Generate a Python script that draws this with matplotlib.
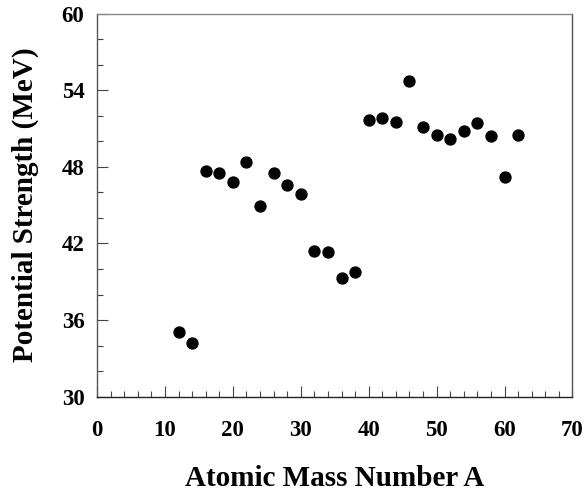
import matplotlib
matplotlib.use("Agg")
import matplotlib.pyplot as plt
from matplotlib.ticker import MultipleLocator

# mass number A and potential strength (MeV)
mass_number = [12, 14, 16, 18, 20, 22, 24, 26, 28, 30, 32, 34, 36, 38,
               40, 42, 44, 46, 48, 50, 52, 54, 56, 58, 60, 62]
strength = [35.1, 34.2, 47.7, 47.5, 46.8, 48.4, 44.9, 47.5, 46.6, 45.9,
            41.4, 41.3, 39.3, 39.8, 51.7, 51.8, 51.5, 54.7, 51.1, 50.5,
            50.2, 50.8, 51.4, 50.4, 47.2, 50.5]

x_ticks = [0, 10, 20, 30, 40, 50, 60, 70]
y_ticks = [30, 36, 42, 48, 54, 60]

plt.rcParams['font.family'] = ['Liberation Serif', 'DejaVu Serif']
plt.rcParams['font.weight'] = 'bold'

fig = plt.figure(figsize=(5.85, 4.91), dpi=100)
ax = fig.add_axes([0.1658, 0.192, 0.8128, 0.7805])

ax.scatter(mass_number, strength, s=62, color='black', zorder=3)

ax.set_xlim(0, 70)
ax.set_ylim(30, 60)
ax.set_xticks(x_ticks)
ax.set_yticks(y_ticks)
ax.xaxis.set_minor_locator(MultipleLocator(2))
ax.yaxis.set_minor_locator(MultipleLocator(2))

ax.tick_params(axis='both', which='major', direction='in', length=8,
               width=0.8, color='#444444', labelsize=16.5)
ax.tick_params(axis='both', which='minor', direction='in', length=4,
               width=0.8, color='#444444')
ax.tick_params(axis='x', which='major', pad=17)
ax.tick_params(axis='y', which='major', pad=9)
for lbl in ax.get_xticklabels() + ax.get_yticklabels():
    lbl.set_fontweight('bold')

ax.spines['bottom'].set_color('#222222')
ax.spines['left'].set_color('#555555')
ax.spines['top'].set_color('#888888')
ax.spines['right'].set_color('#555555')
for sp in ax.spines.values():
    sp.set_linewidth(1.0)

ax.set_xlabel('Atomic Mass Number A', fontsize=21, fontweight='bold', labelpad=17)
ax.set_ylabel('Potential Strength (MeV)', fontsize=21, fontweight='bold', labelpad=16)

fig.savefig('out.png', dpi=100)
